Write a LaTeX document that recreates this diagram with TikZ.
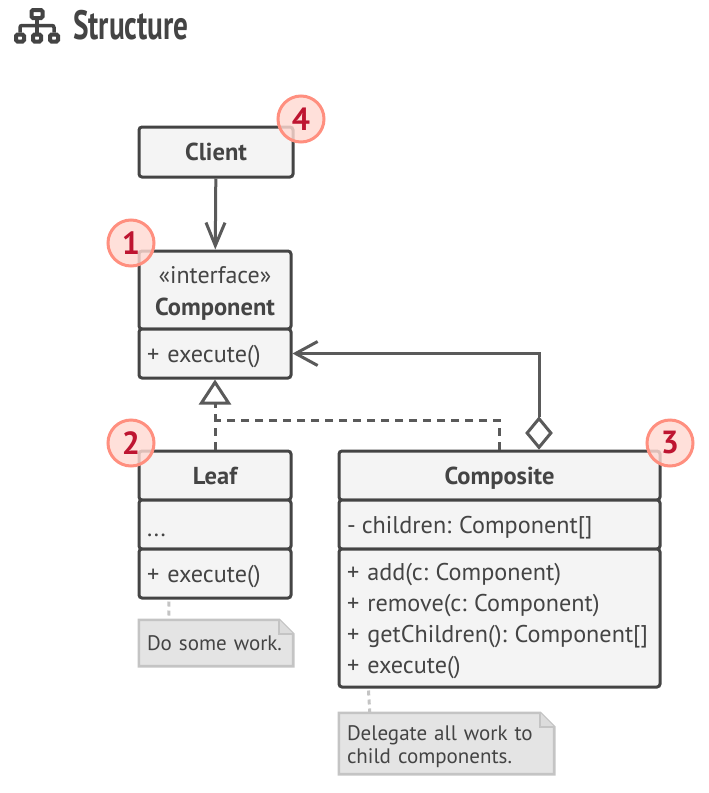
\documentclass[tikz,border=0pt]{standalone}
\usepackage{fontspec}
\setmainfont{PT Sans}
\usetikzlibrary{arrows.meta,positioning,shapes,backgrounds,calc}

\definecolor{inkdark}{HTML}{444444}
\definecolor{inkline}{HTML}{5A5A5A}
\definecolor{boxfill}{HTML}{F4F4F4}
\definecolor{notefill}{HTML}{E4E4E4}
\definecolor{noteline}{HTML}{C4C4C4}
\definecolor{badgefill}{HTML}{FFD9D2}
\definecolor{badgeline}{HTML}{FF8F7F}
\definecolor{badgetext}{HTML}{BE1531}

\newcommand{\tightcolon}{:\kern-0.5pt\ }
\newcommand{\foldnote}[1]{
	\begin{scope}[on background layer]
		\draw[noteline, fill=notefill, line width=2.6pt] (#1.north west) -- ($(#1.north east)+(-14,0)$) -- ($(#1.north east)+(0,14)$) -- (#1.south east) -- (#1.south west) -- cycle;
		\draw[noteline, fill=noteline!60, line width=2pt] ($(#1.north east)+(-14,0)$) -- ($(#1.north east)+(-14,14)$) -- ($(#1.north east)+(0,14)$);
	\end{scope}
}

\begin{document}
\begin{tikzpicture}[x=1pt, y=-1pt]

	\tikzstyle{cell}=[rectangle, rounded corners=3pt, line width=3pt, draw=inkdark, fill=boxfill, text=inkdark, inner sep=0pt]
	\tikzstyle{head}=[cell, font=\fontsize{24.5}{32}\selectfont\bfseries, align=center]
	\tikzstyle{body}=[cell, align=left, font=\fontsize{24.2}{31}\selectfont, execute at begin node=\rule{0pt}{24pt}]
	\tikzstyle{note}=[rectangle, inner sep=0pt, text=inkdark, align=left, font=\fontsize{21}{23}\selectfont]
	\tikzstyle{badge}=[circle, minimum size=46pt, inner sep=0pt, draw=badgeline, line width=3pt, fill=badgefill, fill opacity=0.82, text opacity=1, text=badgetext, font=\fontsize{32}{32}\selectfont\bfseries]
	\tikzstyle{link}=[line width=3pt, draw=inkline]
	\tikzstyle{dashlink}=[link, dash pattern=on 8pt off 6pt]
	\tikzstyle{notelink}=[line width=3pt, draw=noteline, dash pattern=on 5pt off 4pt]
	\tikzstyle{iconbox}=[rectangle, rounded corners=1.5pt, line width=4pt, draw=inkdark, minimum width=8pt, minimum height=7pt, inner sep=0pt]

	\useasboundingbox (0,0) rectangle (709,793);

	% title
	\node[iconbox, minimum width=11pt, minimum height=8pt] (iconTop) at (37,14) {};
	\node[iconbox] (iconA) at (20,38) {};
	\node[iconbox] (iconB) at (37,38) {};
	\node[iconbox] (iconC) at (54,38) {};
	\coordinate (iconMid) at (37,25.5);
	\draw[line width=3.5pt, inkdark] (iconTop) -- (iconB);
	\draw[line width=3.5pt, inkdark, rounded corners=2pt] (iconA) |- (iconMid) -| (iconC);
	\node[anchor=west, inner sep=0pt, text=inkdark, font=\fontsize{41}{41}\selectfont\bfseries, xscale=0.715, transform shape] (title) at (73,25) {Structure};

	% client
	\node[head, minimum width=154pt, minimum height=50pt] (client) at (216,152) {Client};

	% component
	\node[head, minimum width=152pt, minimum height=78pt] (compoHead) at (215,290) {\rule{0pt}{24pt}\fontsize{24}{32}\selectfont\mdseries«interface»\\Component};
	\node[body, minimum width=152pt, minimum height=49pt, text width=136pt] (compoOps) at (215,353.5) {+ execute()};

	% leaf
	\node[head, minimum width=152pt, minimum height=49pt] (leafHead) at (215,475.5) {Leaf};
	\node[body, minimum width=152pt, minimum height=49pt, text width=136pt] (leafAttr) at (215,524.5) {...};
	\node[body, minimum width=152pt, minimum height=49pt, text width=136pt] (leafOps) at (215,573.5) {+ execute()};

	% composite
	\node[head, minimum width=321pt, minimum height=49pt] (compHead) at (499.5,475.5) {\rule{0pt}{22pt}Composite};
	\node[body, minimum width=321pt, minimum height=49pt, text width=305pt] (compAttr) at (499.5,524.5) {-\kern-2pt\ children\tightcolon Component[]};
	\node[body, minimum width=321pt, minimum height=138pt, text width=305pt] (compOps) at (499.5,618) {+ add(c\tightcolon Component)\\+ remove(c\tightcolon Component)\\+ getChildren()\tightcolon Component[]\\+ execute()};

	% notes
	\node[note, minimum width=154pt, minimum height=46pt, text width=138pt] (noteLeaf) at (216,643) {Do some work.};
	\node[note, minimum width=215pt, minimum height=61pt, text width=199pt] (noteComp) at (446.5,743.5) {\rule{0pt}{22pt}Delegate all work to\\child components.};
	\foldnote{noteLeaf}
	\foldnote{noteComp}

	% connectors
	\node[diamond, draw=inkline, line width=3pt, fill=white, minimum width=25pt, minimum height=30pt, inner sep=0pt] (aggr) at (539,433) {};
	\coordinate (bend) at (215,420);
	\draw[link, -{Straight Barb[length=23pt, width=19pt, line width=3pt]}] (client) -- (compoHead);
	\draw[link, -{Straight Barb[length=22pt, width=24pt, line width=3pt]}] (aggr.north) |- (compoOps.east);
	\draw[dashlink, -{Triangle[open, length=25pt, width=32pt, line width=3pt, fill=white]}] (leafHead) -- (compoOps);
	\draw[dashlink] (compHead.north) |- (bend);
	\draw[notelink] ($(leafOps.south)+(-46,2)$) -- ($(noteLeaf.north west)+(30,0)$);
	\draw[notelink] ($(compOps.south west)+(31,2)$) -- ($(noteComp.north west)+(31,0)$);

	% badges
	\node[badge] (badgeClient) at (301,119) {4};
	\node[badge] (badgeCompo) at (131,243) {1};
	\node[badge] (badgeLeaf) at (131,443) {2};
	\node[badge] (badgeComp) at (670,443) {3};

\end{tikzpicture}
\end{document}
